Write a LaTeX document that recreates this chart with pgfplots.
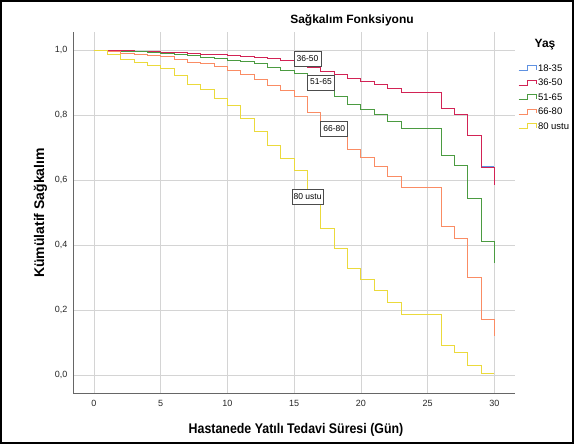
\documentclass[border=0pt]{standalone}
\usepackage{fontspec}
\setmainfont{Liberation Sans}
\usepackage{pgfplots}
\pgfplotsset{compat=1.18}
\definecolor{c1}{RGB}{95,145,225}
\definecolor{c2}{RGB}{210,35,85}
\definecolor{c3}{RGB}{75,155,65}
\definecolor{c4}{RGB}{250,140,100}
\definecolor{c5}{RGB}{235,218,60}
\definecolor{gridc}{RGB}{212,212,212}
\begin{document}
\begin{tikzpicture}[x=1pt,y=1pt]
\path[use as bounding box] (0,0) rectangle (574,444);
\fill[white] (0,0) rectangle (574,444);
\begin{axis}[
  at={(73pt,51pt)}, anchor=south west, scale only axis,
  width=442pt, height=361pt,
  xmin=-1.573, xmax=31.54, ymin=-0.0554, ymax=1.0554,
  axis x line=bottom, axis y line=left,
  axis line style={-, draw=black!60, line width=0.8pt},
  xtick={0,5,10,15,20,25,30}, ytick={0,0.2,0.4,0.6,0.8,1},
  major tick length=0pt,
  grid=major, major grid style={gridc, line width=0.9pt},
  tick label style={font=\fontsize{9}{10}\selectfont, text=black!85},
  /pgf/number format/assume math mode=true,
  y tick label style={/pgf/number format/fixed, /pgf/number format/fixed zerofill,
    /pgf/number format/precision=1, /pgf/number format/use comma, xshift=-2pt},
  x tick label style={yshift=-4pt},
  legend style={at={(rel axis cs:1,0.925)}, anchor=north west, draw=none, fill=none,
    font=\fontsize{9.5}{10}\selectfont, row sep=0pt,
    nodes={inner ysep=2.5pt, inner xsep=1pt, text height=7.5pt, text depth=2pt}},
  legend cell align=left,
  legend image code/.code={\draw[#1, line width=0.8pt] (0pt,-2pt) -- (9pt,-2pt) -- (9pt,3pt) -- (18pt,3pt) -- (18pt,-1pt);},
]
\addplot[const plot, c1, line width=1pt] coordinates {
(0,1.0) (1,0.998) (2,0.997) (3,0.996) (4,0.995) (5,0.993) (6,0.991) (7,0.989) (8,0.987) (9,0.985)
(10,0.983) (11,0.980) (12,0.977) (13,0.973) (14,0.967) (15,0.955) (16,0.945) (17,0.935) (18,0.926) (19,0.912)
(20,0.903) (21,0.893) (22,0.882) (23,0.870) (26,0.820) (27,0.802) (28,0.737) (29,0.642) (30,0.642)};
\addlegendentry{18-35}
\addplot[const plot, c2, line width=1pt] coordinates {
(0,1.0) (1,0.998) (2,0.997) (3,0.996) (4,0.995) (5,0.993) (6,0.991) (7,0.989) (8,0.987) (9,0.985)
(10,0.983) (11,0.980) (12,0.977) (13,0.973) (14,0.967) (15,0.955) (16,0.945) (17,0.935) (18,0.926) (19,0.912)
(20,0.903) (21,0.893) (22,0.882) (23,0.870) (26,0.820) (27,0.802) (28,0.736) (29,0.638) (30,0.585)};
\addlegendentry{36-50}
\addplot[const plot, c3, line width=1pt] coordinates {
(0,1.0) (1,0.996) (2,0.996) (3,0.994) (4,0.991) (5,0.988) (6,0.985) (7,0.982) (8,0.978) (9,0.975)
(10,0.968) (11,0.964) (12,0.957) (13,0.946) (14,0.937) (15,0.927) (16,0.905) (17,0.880) (18,0.856) (19,0.832)
(20,0.816) (21,0.800) (22,0.779) (23,0.757) (26,0.674) (27,0.646) (28,0.544) (29,0.410) (30,0.344)};
\addlegendentry{51-65}
\addplot[const plot, c4, line width=1pt] coordinates {
(0,1.0) (1,0.994) (2,0.990) (3,0.987) (4,0.984) (5,0.981) (6,0.971) (7,0.963) (8,0.957) (9,0.949)
(10,0.938) (11,0.925) (12,0.910) (13,0.892) (14,0.874) (15,0.858) (16,0.808) (17,0.775) (18,0.740) (19,0.694)
(20,0.670) (21,0.641) (22,0.610) (23,0.578) (26,0.456) (27,0.419) (28,0.300) (29,0.171) (30,0.120)};
\addlegendentry{66-80}
\addplot[const plot, c5, line width=1pt] coordinates {
(0,1.0) (1,0.985) (2,0.972) (3,0.962) (4,0.951) (5,0.944) (6,0.921) (7,0.895) (8,0.877) (9,0.851)
(10,0.828) (11,0.790) (12,0.749) (13,0.707) (14,0.666) (15,0.630) (16,0.545) (17,0.451) (18,0.390) (19,0.328)
(20,0.294) (21,0.259) (22,0.222) (23,0.186) (26,0.091) (27,0.068) (28,0.028) (29,0.005) (30,0.005)};
\addlegendentry{80 ustu}
\tikzset{lbl/.style={draw=black!70, fill=white, line width=0.8pt, font=\fontsize{8.5}{9}\selectfont,
  inner xsep=1.5pt, inner ysep=3.5pt, minimum width=27pt, text height=6.5pt, text depth=1.5pt}}
\node[lbl] at (axis cs:16.0,0.972) {36-50};
\node[lbl] at (axis cs:17.0,0.900) {51-65};
\node[lbl] at (axis cs:18.0,0.758) {66-80};
\node[lbl] at (axis cs:16.0,0.547) {80 ustu};
\end{axis}
\node[font=\bfseries\fontsize{12}{14}\selectfont] at (352,424) {Sağkalım Fonksiyonu};
\node[font=\bfseries\fontsize{12}{14}\selectfont] at (545,399) {Yaş};
\node[font=\bfseries\fontsize{14}{16}\selectfont, xscale=0.885] at (296,14) {Hastanede Yatılı Tedavi Süresi (Gün)};
\node[font=\bfseries\fontsize{14}{16}\selectfont, rotate=90] at (40.5,231) {Kümülatif Sağkalım};
\draw[line width=2.5pt] (1,1) rectangle (573,443);
\end{tikzpicture}
\end{document}
